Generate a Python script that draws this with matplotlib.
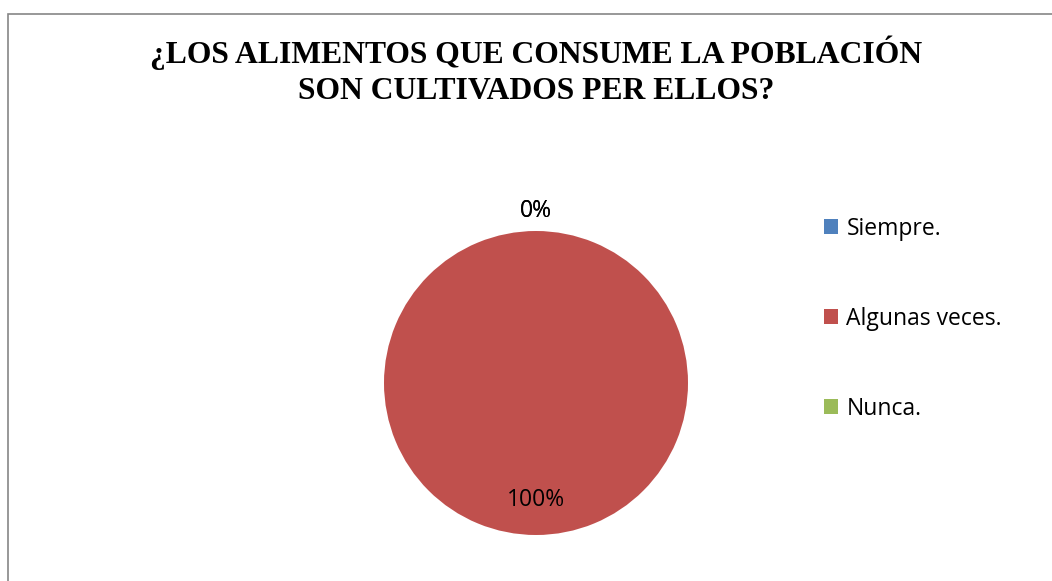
import matplotlib.pyplot as plt
from matplotlib.patches import Rectangle
import numpy as np

categories = ["Siempre.", "Algunas veces.", "Nunca."]
values = [0, 100, 0]
colors = ["#4F81BD", "#C0504D", "#9BBB59"]
title = "¿LOS ALIMENTOS QUE CONSUME LA POBLACIÓN\nSON CULTIVADOS PER ELLOS?"

fig = plt.figure(figsize=(10.52, 5.81), dpi=100)

# chart frame (only top and left visible in the crop)
fig.patches.append(Rectangle((8 / 1052, -0.05), 1.2, 1 - 14 / 581 + 0.05,
                             transform=fig.transFigure, fill=False,
                             edgecolor="#868686", linewidth=1.2))

fig.text(536 / 1052, 1 - 71 / 581, title, ha="center", va="center",
         family="Liberation Serif", fontweight="bold", fontsize=22.8,
         linespacing=1.3)

ax = fig.add_axes([384 / 1052, 46 / 581, 304 / 1052, 304 / 581])
wedges, _ = ax.pie(values, colors=colors, startangle=90, counterclock=False,
                   radius=1, wedgeprops=dict(linewidth=0))
ax.set_xlim(-1, 1)
ax.set_ylim(-1, 1)

total = sum(values)
seen = set()
for w, v in zip(wedges, values):
    mid = np.deg2rad((w.theta1 + w.theta2) / 2)
    dist = 0.77 if v > 0 else 1.13
    pos = (round(dist * np.cos(mid), 3), round(dist * np.sin(mid), 3))
    if pos in seen:
        continue
    seen.add(pos)
    ax.text(pos[0], pos[1], f"{v / total:.0%}", ha="center", va="center",
            fontsize=16.5, family="Open Sans")

fig.legend(wedges, categories, loc="center left",
           bbox_to_anchor=(824 / 1052, 1 - 319 / 581), frameon=False,
           prop=dict(family="Open Sans", size=16.5), labelspacing=2.88,
           handlelength=0.63, handleheight=0.63, handletextpad=0.35,
           borderpad=0, borderaxespad=0)

fig.savefig("out.png", dpi=100)
